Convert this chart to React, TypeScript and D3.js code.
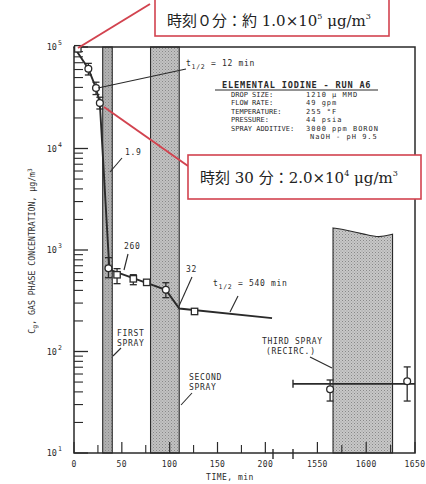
import * as d3 from "d3";

const W = 426;
const H = 484;

// broken time axis: 0–208 min, then 1525–1650 min
const xDomain = [0, 208, 1525, 1650];
const xRange = [74, 273, 293, 415];
const yDomain = [10, 1e5];

const xMajorTicks = [0, 50, 100, 150, 200, 1550, 1600, 1650];
const xMinorTicks = [25, 75, 125, 175, 1575, 1625];
const xBreaks = [208, 1525];
const yDecades = [10, 100, 1000, 10000, 100000];

// spray periods (min)
const sprayStart = [30, 80, 1566];
const sprayEnd = [40, 110, 1627];
const sprayBase = ["#b2b2b2", "#c2c2c2", "#c8c8c8"];
// broken top of third spray band
const thirdTopTimes = [1566, 1580, 1600, 1613, 1627];
const thirdTopValues = [1650, 1570, 1420, 1320, 1430];

// fitted decay line
const fitTimes = [0, 15, 23, 27, 37, 96, 110, 207];
const fitValues = [100000, 61000, 39500, 28000, 640, 405, 265, 213];

// measured points
const pointTimes = [4, 15, 23, 27, 36, 45, 62, 76, 96, 126, 1563, 1642];
const pointValues = [96000, 61000, 39500, 28000, 660, 570, 520, 480, 405, 248, 42.5, 51];
const pointShape = ["s", "c", "c", "c", "c", "s", "s", "s", "c", "s", "c", "c"];
const errLow = [null, 53000, 34000, 24500, 533, 466, 455, null, 339, null, 32.5, 32.5];
const errHigh = [null, 69000, 45000, 32000, 841, 655, 571, null, 476, null, 52.4, 70.5];

// time-averaged level during recirculation
const recircSpan = [1525, 1650];
const recircValue = 48;

const legendLabels = ["DROP SIZE:", "FLOW RATE:", "TEMPERATURE:", "PRESSURE:", "SPRAY ADDITIVE:", ""];
const legendValues = ["1210 \u03bc MMD", "49 gpm", "255 \u00b0F", "44 psia", "3000 ppm BORON", "NaOH - pH 9.5"];

const INK = "#2a2a2a";
const RED = "#d2434f";
const MONO = "'DejaVu Sans Mono', monospace";
const JP = "'Noto Sans CJK JP', sans-serif";
const SERIF = "'DejaVu Serif', 'Liberation Serif', serif";

export default function App() {
  const x = d3.scaleLinear().domain(xDomain).range(xRange);
  const y = d3.scaleLog().domain(yDomain).range([453, 47]);
  const [x0, x1] = [xRange[0], xRange[xRange.length - 1]];
  const [yb, yt] = y.range();

  const minorY: number[] = [];
  yDecades.slice(0, -1).forEach((d) => {
    for (let k = 2; k <= 9; k++) minorY.push(d * k);
  });

  const fitLine = d3
    .line<number>()
    .x((_, i) => x(fitTimes[i]))
    .y((v) => y(v))(fitValues);

  const topCurve = d3
    .line<number>()
    .x((_, i) => x(thirdTopTimes[i]))
    .y((v) => y(v))
    .curve(d3.curveBasis)(thirdTopValues);

  const ann = { fontSize: 8, letterSpacing: 0.7 };

  return (
    <svg
      width={W}
      height={H}
      viewBox={`0 0 ${W} ${H}`}
      style={{ position: "absolute", left: 0, top: 0, background: "#fff" }}
    >
      <defs>
        {sprayBase.map((c, i) => (
          <pattern key={i} id={`stip${i}`} width={3} height={3} patternUnits="userSpaceOnUse">
            <rect width={3} height={3} fill={c} />
            <rect width={1} height={1} fill="#888" />
            <rect x={1.5} y={1.5} width={1} height={1} fill="#999" />
          </pattern>
        ))}
      </defs>

      {/* spray bands */}
      {sprayStart.map((s, i) => {
        const xa = x(s);
        const xb = x(sprayEnd[i]);
        if (i < 2) {
          return (
            <rect
              key={i}
              x={xa}
              y={yt}
              width={xb - xa}
              height={yb - yt}
              fill={`url(#stip${i})`}
              stroke={INK}
              strokeWidth={1.1}
            />
          );
        }
        const d = `${topCurve} L${xb},${yb} L${xa},${yb} Z`;
        return <path key={i} d={d} fill={`url(#stip${i})`} stroke={INK} strokeWidth={1.1} />;
      })}

      {/* frame */}
      <rect x={x0} y={yt} width={x1 - x0} height={yb - yt} fill="none" stroke={INK} strokeWidth={1.5} />

      {/* y ticks */}
      {yDecades.map((d, i) => (
        <g key={`yd${i}`}>
          <line x1={x0} x2={x0 + 14} y1={y(d)} y2={y(d)} stroke={INK} strokeWidth={1.3} />
          <text x={57} y={y(d) + 3} textAnchor="end" fontFamily={MONO} fontSize={8.5} fill={INK}>
            10
          </text>
          <text x={58} y={y(d) - 2} fontFamily={MONO} fontSize={6.5} fill={INK}>
            {Math.round(Math.log10(d))}
          </text>
        </g>
      ))}
      {minorY.map((v, i) => (
        <line key={`ym${i}`} x1={x0} x2={x0 + 9} y1={y(v)} y2={y(v)} stroke={INK} strokeWidth={1.1} />
      ))}

      {/* x ticks */}
      {xMajorTicks.map((t, i) => (
        <g key={`xt${i}`}>
          <line x1={x(t)} x2={x(t)} y1={yb} y2={yb - 11} stroke={INK} strokeWidth={1.2} />
          <text x={x(t)} y={467} textAnchor="middle" fontFamily={MONO} fontSize={8} letterSpacing={0.4} fill={INK}>
            {t}
          </text>
        </g>
      ))}
      {xMinorTicks.map((t, i) => (
        <line key={`xm${i}`} x1={x(t)} x2={x(t)} y1={yb} y2={yb - 8} stroke={INK} strokeWidth={1.1} />
      ))}
      {xBreaks.map((t, i) => (
        <line key={`xb${i}`} x1={x(t)} x2={x(t)} y1={yb - 4} y2={yb + 6} stroke={INK} strokeWidth={1.4} />
      ))}
      <text x={230} y={480} textAnchor="middle" fontFamily={MONO} fontSize={8} letterSpacing={0.5} fill={INK}>
        TIME, min
      </text>

      {/* y label */}
      <text
        transform="translate(35,251) rotate(-90)"
        textAnchor="middle"
        fontFamily={MONO}
        fontSize={8.2}
        fill={INK}
      >
        C<tspan fontSize={6.5} dy={2}>g</tspan>
        <tspan dy={-2}>, GAS PHASE CONCENTRATION, {"\u03bc"}g/m</tspan>
        <tspan fontSize={6} dy={-3}>3</tspan>
      </text>

      {/* fitted line */}
      <path d={fitLine ?? ""} fill="none" stroke={INK} strokeWidth={1.9} />
      <line
        x1={x(recircSpan[0])}
        x2={x(recircSpan[1])}
        y1={y(recircValue)}
        y2={y(recircValue)}
        stroke={INK}
        strokeWidth={1.9}
      />
      <line
        x1={x(recircSpan[0])}
        x2={x(recircSpan[0])}
        y1={y(recircValue) - 4}
        y2={y(recircValue) + 4}
        stroke={INK}
        strokeWidth={1.4}
      />

      {/* error bars */}
      {pointTimes.map((t, i) => {
        const lo = errLow[i];
        const hi = errHigh[i];
        if (lo == null || hi == null) return null;
        const cx = x(t);
        return (
          <g key={`e${i}`} stroke={INK} strokeWidth={1.3}>
            <line x1={cx} x2={cx} y1={y(lo)} y2={y(hi)} />
            <line x1={cx - 3.5} x2={cx + 3.5} y1={y(lo)} y2={y(lo)} />
            <line x1={cx - 3.5} x2={cx + 3.5} y1={y(hi)} y2={y(hi)} />
          </g>
        );
      })}

      {/* markers */}
      {pointTimes.map((t, i) => {
        const cx = x(t);
        const cy = y(pointValues[i]);
        return pointShape[i] === "c" ? (
          <circle key={`p${i}`} cx={cx} cy={cy} r={3.4} fill="#fff" stroke={INK} strokeWidth={1.3} />
        ) : (
          <rect key={`p${i}`} x={cx - 3.2} y={cy - 3.2} width={6.4} height={6.4} fill="#fff" stroke={INK} strokeWidth={1.3} />
        );
      })}

      {/* annotations */}
      <g fontFamily={MONO} fill={INK} stroke="none" {...ann}>
        <text x={186} y={66}>
          t<tspan fontSize={6.5} dy={3}>1/2</tspan>
          <tspan dy={-3}> = 12 min</tspan>
        </text>
        <text x={125} y={155}>1.9</text>
        <text x={124} y={249}>260</text>
        <text x={186} y={272}>32</text>
        <text x={213} y={286}>
          t<tspan fontSize={6.5} dy={3}>1/2</tspan>
          <tspan dy={-3}> = 540 min</tspan>
        </text>
        <text x={117} y={336}>FIRST</text>
        <text x={117} y={346}>SPRAY</text>
        <text x={189} y={380}>SECOND</text>
        <text x={189} y={390}>SPRAY</text>
        <text x={262} y={344}>THIRD SPRAY</text>
        <text x={266} y={354}>(RECIRC.)</text>
      </g>
      <g stroke={INK} strokeWidth={1.1}>
        <line x1={98} y1={88} x2={186} y2={69} />
        <line x1={122} y1={158} x2={110} y2={172} />
        <line x1={128} y1={254} x2={124} y2={270} />
        <line x1={192} y1={277} x2={179} y2={306} />
        <line x1={238} y1={296} x2={230} y2={312} />
        <line x1={121} y1={348} x2={113} y2={356} />
        <line x1={192} y1={393} x2={181} y2={405} />
        <line x1={310} y1={357} x2={332} y2={368} />
      </g>

      {/* run parameters */}
      <g fontFamily={MONO} fill={INK}>
        <text x={222} y={88} fontSize={8.6} fontWeight="bold" letterSpacing={0.8}>
          ELEMENTAL IODINE - RUN A6
        </text>
        <line x1={215} x2={378} y1={90} y2={90} stroke={INK} strokeWidth={1.2} />
        {legendLabels.map((l, i) => (
          <g key={`lg${i}`} fontSize={7}>
            <text x={231} y={97 + i * 8.4}>{l}</text>
            <text x={l ? 306 : 310} y={97 + i * 8.4} letterSpacing={1}>
              {legendValues[i]}
            </text>
          </g>
        ))}
      </g>

      {/* red callouts */}
      <line x1={150} y1={4} x2={78} y2={48} stroke={RED} strokeWidth={2} />
      <line x1={104} y1={107} x2={188} y2={166} stroke={RED} strokeWidth={2} />
      <rect x={155} y={-2} width={234} height={38} fill="#fff" stroke={RED} strokeWidth={1.6} />
      <text x={167} y={26} fontSize={15} fill="#222">
        <tspan fontFamily={JP}>時刻０分：約</tspan>
        <tspan fontFamily={SERIF}> 1.0×10</tspan>
        <tspan fontFamily={SERIF} fontSize={8} dy={-7}>5</tspan>
        <tspan fontFamily={SERIF} dy={7}> μg/m</tspan>
        <tspan fontFamily={SERIF} fontSize={8} dy={-7}>3</tspan>
      </text>
      <rect x={188} y={155} width={233} height={44} fill="#fff" stroke={RED} strokeWidth={1.6} />
      <text x={200} y={183} fontSize={15} fill="#222">
        <tspan fontFamily={JP}>時刻</tspan>
        <tspan fontFamily={SERIF}> 30 </tspan>
        <tspan fontFamily={JP}>分：</tspan>
        <tspan fontFamily={SERIF}>2.0×10</tspan>
        <tspan fontFamily={SERIF} fontSize={8} dy={-7}>4</tspan>
        <tspan fontFamily={SERIF} dy={7}> μg/m</tspan>
        <tspan fontFamily={SERIF} fontSize={8} dy={-7}>3</tspan>
      </text>
    </svg>
  );
}
